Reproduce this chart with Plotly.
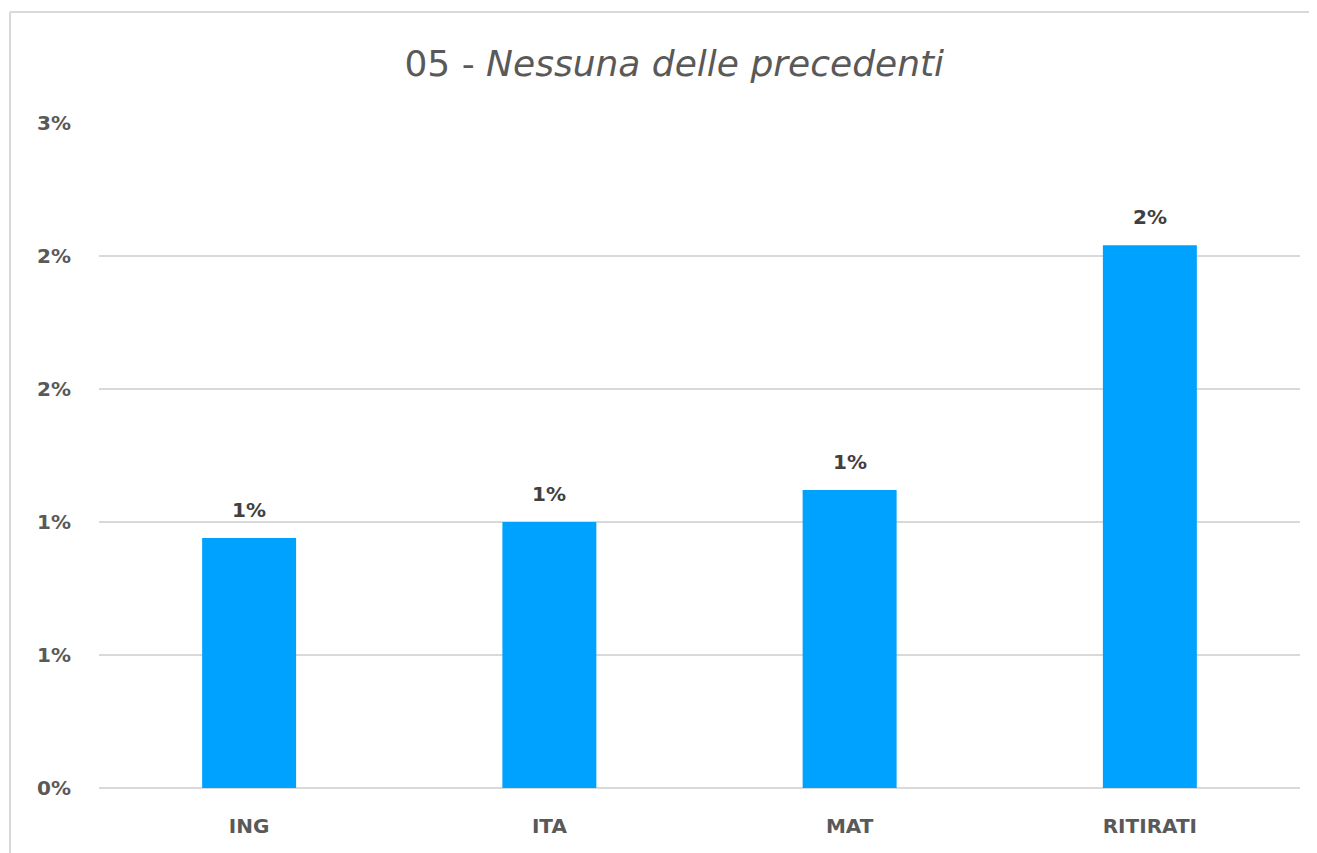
import plotly.graph_objects as go

categories = ["ING", "ITA", "MAT", "RITIRATI"]
values = [0.94, 1.0, 1.12, 2.04]  # percent
tick_vals = [0, 0.5, 1.0, 1.5, 2.0, 2.5]
tick_text = ["0%", "1%", "1%", "2%", "2%", "3%"]
title_text = "05 - <i>Nessuna delle precedenti</i>"

FONT = "DejaVu Sans"
GRID = "#d9d9d9"

fig = go.Figure()
fig.add_trace(go.Bar(
    x=categories,
    y=values,
    marker=dict(color="#00a2ff", line=dict(width=0)),
    hoverinfo="skip",
))

# value labels sit a bit above each bar, rounded like the source
for cat, val in zip(categories, values):
    fig.add_annotation(
        x=cat, y=val,
        text=f"{val:.0f}%",
        showarrow=False,
        yanchor="bottom",
        yshift=14,
        font=dict(family=FONT, size=20, color="#404040", weight="bold"),
    )

# light frame around the chart area (left and top edges)
fig.add_shape(type="line", xref="paper", yref="paper",
              x0=-0.0741, x1=-0.0741, y0=1.1669, y1=-0.12,
              line=dict(color=GRID, width=2))
fig.add_shape(type="line", xref="paper", yref="paper",
              x0=-0.0741, x1=1.0142, y0=1.1669, y1=1.1669,
              line=dict(color=GRID, width=2))

fig.update_layout(
    width=1309,
    height=845,
    margin=dict(l=91, r=17, t=115, b=65),
    paper_bgcolor="white",
    plot_bgcolor="white",
    bargap=0.687,
    showlegend=False,
    title=dict(
        text=title_text,
        x=0.509,
        xanchor="center",
        y=0.935,
        yanchor="middle",
        font=dict(family=FONT, size=36, color="#595959"),
    ),
)
fig.update_yaxes(
    range=[0, 2.5],
    tickvals=tick_vals,
    ticktext=tick_text,
    showgrid=True,
    gridcolor=GRID,
    gridwidth=2,
    zeroline=True,
    zerolinecolor=GRID,
    zerolinewidth=2,
    showline=False,
    ticks="",
    ticklabelstandoff=27,
    tickfont=dict(family=FONT, size=20, color="#595959", weight="bold"),
)
fig.update_xaxes(
    showline=False,
    ticks="",
    ticklabelstandoff=24,
    tickfont=dict(family=FONT, size=20, color="#595959", weight="bold"),
)

fig.write_html("out.html")
